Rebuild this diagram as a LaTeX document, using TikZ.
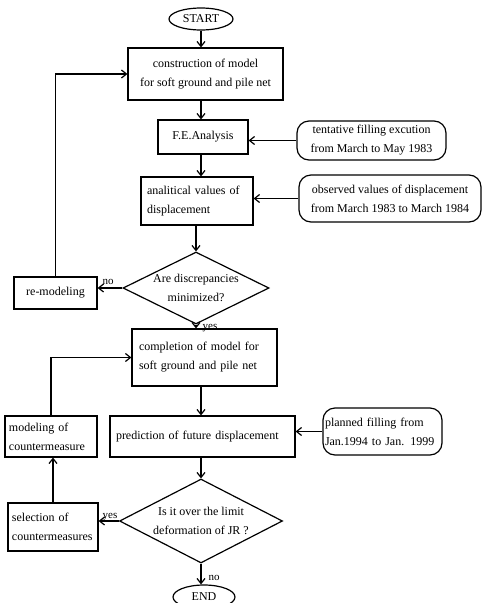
\documentclass[tikz,border=0pt]{standalone}
\usepackage{fontspec}
\setmainfont{Liberation Serif}
\usetikzlibrary{arrows.meta,shapes.geometric}
\begin{document}
\begin{tikzpicture}[x=1pt,y=-1pt,
  font=\fontsize{12}{19}\selectfont,
  line width=1.2pt,
  arr/.style={-{Straight Barb[length=5pt,width=8pt,line width=1.2pt]}},
  sbox/.style={draw,rectangle,inner sep=0pt},
  rbox/.style={draw,rectangle,rounded corners=12pt,inner sep=0pt},
  term/.style={draw,ellipse,inner sep=0pt},
  dia/.style={draw,diamond,inner sep=0pt},
  lbl/.style={inner sep=0pt,font=\fontsize{11}{13}\selectfont}]
\useasboundingbox (0,0) rectangle (483,603);

\node[term,minimum width=64pt,minimum height=22pt] (start) at (201,19) {START};
\node[sbox,minimum width=155pt,minimum height=52pt,align=center] (b1) at (205.5,74) {construction of model\\for soft ground and pile net};
\node[sbox,minimum width=90pt,minimum height=34pt] (fe) at (203,137) {F.E.Analysis};
\node[rbox,minimum width=149pt,minimum height=39pt,align=center] (tent) at (371.5,140.5) {tentative filling excution\\from March to May 1983};
\node[sbox,minimum height=48pt,text width=100pt,inner xsep=6pt,align=left] (anal) at (197,201) {analitical values of\\displacement};
\node[rbox,minimum width=182pt,minimum height=47pt,align=center] (obs) at (390,198.5) {observed values of displacement\\from March 1983 to March 1984};
\node[dia,minimum width=146pt,minimum height=72pt] (d1) at (196,288) {};
\node[align=center,inner sep=0pt] (d1t) at (d1) {Are discrepancies\\minimized?};
\node[sbox,minimum width=83pt,minimum height=32pt] (remod) at (55.5,293) {re-modeling};
\node[sbox,minimum height=57pt,text width=131pt,inner xsep=7pt,align=left] (comp) at (204.5,357.5) {completion of model for\\soft ground and pile net};
\node[sbox,minimum height=41pt,text width=173pt,inner xsep=6pt,align=left] (pred) at (202.5,436.5) {prediction of future displacement};
\node[rbox,minimum height=47pt,text width=115pt,inner xsep=2pt,align=left] (plan) at (382.5,431.5) {planned filling from\\Jan.1994 to Jan. 1999};
\node[sbox,minimum height=41pt,text width=84pt,inner xsep=4pt,align=left] (model) at (51,436.5) {modeling of\\countermeasure};
\node[dia,minimum width=163pt,minimum height=84pt] (d2) at (201,521) {};
\node[align=center,inner sep=0pt] (d2t) at (d2) {Is it over the limit\\deformation of JR ?};
\node[sbox,minimum height=48pt,text width=82pt,inner xsep=4pt,align=left] (sel) at (53,527) {selection of\\countermeasures};
\node[term,minimum width=62pt,minimum height=24pt] (end) at (204,597) {END};

\draw[arr] (start.south) -- (start.south |- b1.north);
\draw[arr] (b1.south -| start.south) -- (start.south |- fe.north);
\draw[arr] (fe.south -| start.south) -- (start.south |- anal.north);
\draw[arr] (tent.west) -- (tent.west -| fe.east);
\draw[arr] (anal.south -| d1.north) -- (d1.north);
\draw[arr] (obs.west) -- (obs.west -| anal.east);
\draw[arr] (d1.west) -- (d1.west -| remod.east);
\draw[arr] (remod.north) |- (b1.west);
\draw[arr] (d1.south) -- (d1.south |- comp.north);
\draw[arr] (comp.south -| d2.north) -- (d2.north |- pred.north);
\draw[arr] (plan.west) -- (plan.west -| pred.east);
\draw[arr] (pred.south -| d2.north) -- (d2.north);
\draw[arr] (d2.west) -- (d2.west -| sel.east);
\draw[arr] (sel.north) -- (sel.north |- model.south);
\draw[arr] (model.north) |- (comp.west);
\draw[arr] (d2.south) -- (d2.south |- end.north);

\node[lbl] (l1) at (108,282) {no};
\node[lbl] (l2) at (210,328) {yes};
\node[lbl] (l3) at (110,517) {yes};
\node[lbl] (l4) at (214,578) {no};
\end{tikzpicture}
\end{document}
